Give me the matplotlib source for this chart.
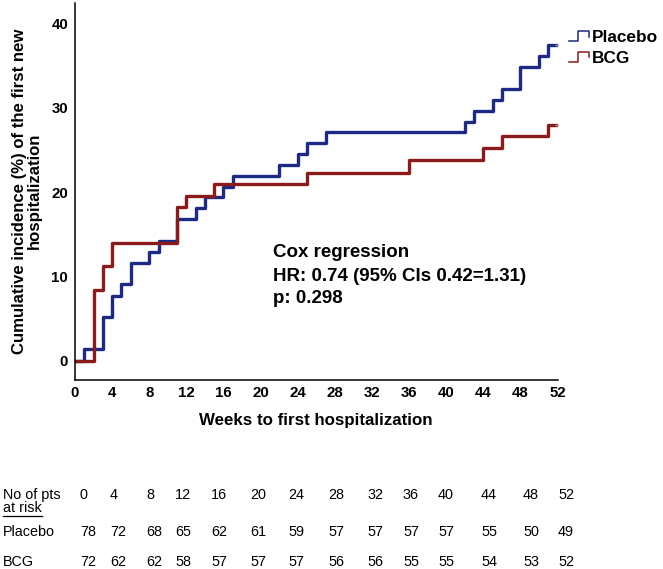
import numpy as np
import matplotlib
matplotlib.use("Agg")
import matplotlib.pyplot as plt
from matplotlib import font_manager
from matplotlib.lines import Line2D
from matplotlib.legend_handler import HandlerBase

# Dados (semanas do evento e incidência acumulada em %)
placebo_semanas = [1, 3, 4, 5, 6, 8, 9, 11, 13, 14, 16, 17, 22, 24, 25, 27,
                   42, 43, 45, 46, 48, 50, 51]
placebo_inc = [1.4, 5.2, 7.7, 9.1, 11.6, 12.9, 14.2, 16.8, 18.1, 19.4, 20.6, 21.9,
               23.2, 24.5, 25.8, 27.1, 28.3, 29.6, 30.9, 32.2, 34.8, 36.1, 37.4]

bcg_semanas = [2, 3, 4, 11, 12, 15, 25, 36, 44, 46, 51]
bcg_inc = [8.4, 11.2, 14.0, 18.2, 19.5, 20.9, 22.3, 23.8, 25.2, 26.6, 28.0]

semana_final = 52

# Tabela de pacientes em risco
tab_semanas = [0, 4, 8, 12, 16, 20, 24, 28, 32, 36, 40, 44, 48, 52]
risco_placebo = [78, 72, 68, 65, 62, 61, 59, 57, 57, 57, 57, 55, 50, 49]
risco_bcg = [72, 62, 62, 58, 57, 57, 57, 56, 56, 55, 55, 54, 53, 52]

cor_placebo = "#1c2a86"
cor_bcg = "#8c1a1a"

plt.rcParams['font.family'] = ['Liberation Sans', 'DejaVu Sans']

nomes = {f.name for f in font_manager.fontManager.ttflist}
tem_narrow = 'Liberation Sans Narrow' in nomes
fonte_tabela = ['Liberation Sans Narrow', 'Liberation Sans'] if tem_narrow else ['Liberation Sans']

W, H = 663, 569
fig = plt.figure(figsize=(W / 100, H / 100), dpi=100)
ax = fig.add_axes([75 / W, 1 - 379.5 / H, 482.5 / W, 376.5 / H])


def curva(semanas, valores):
    x = [0] + list(semanas) + [semana_final]
    y = [0] + list(valores) + [valores[-1]]
    return x, y


x, y = curva(placebo_semanas, placebo_inc)
ax.step(x, y, where='post', color=cor_placebo, lw=2.4, label='Placebo')
ax.plot([semana_final], [placebo_inc[-1]], marker='_', ms=5, mew=1, color='#9aa0c8')
x, y = curva(bcg_semanas, bcg_inc)
ax.step(x, y, where='post', color=cor_bcg, lw=2.4, label='BCG')
ax.plot([semana_final], [bcg_inc[-1]], marker='_', ms=5, mew=1, color='#c89a9a')

ax.set_xlim(0, 52)
ax.set_ylim(-2.2, 42.4)
ax.set_xticks(range(0, 53, 4))
ax.set_yticks([0, 10, 20, 30, 40])
ax.tick_params(length=0, labelsize=10.8, pad=5)
for lab in ax.get_xticklabels() + ax.get_yticklabels():
    lab.set_fontweight('bold')
for s in ['top', 'right']:
    ax.spines[s].set_visible(False)
for s in ['left', 'bottom']:
    ax.spines[s].set_linewidth(1.1)


class HandlerDegrau(HandlerBase):
    def create_artists(self, legend, orig_handle, xdescent, ydescent, width, height, fontsize, trans):
        xs = np.array([0, 0.4, 0.4, 0.95, 0.95]) * width - xdescent
        ys = np.array([0.1, 0.1, 0.9, 0.9, 0.45]) * height - ydescent
        linha = Line2D(xs, ys, color=orig_handle.get_color(), lw=1.1)
        linha.set_transform(trans)
        return [linha]


hs, ls = ax.get_legend_handles_labels()
ax.legend(hs, ls, handler_map={Line2D: HandlerDegrau()}, loc='upper left',
          bbox_to_anchor=(569 / W, 1 - 30 / H), bbox_transform=fig.transFigure,
          frameon=False, borderpad=0, borderaxespad=0, handlelength=1.25,
          handletextpad=0.1, labelspacing=0.33,
          prop={'weight': 'bold', 'size': 12.4})

# Texto da regressão de Cox
ax.text(21.3, 12.8, 'Cox regression', fontsize=13.5, fontweight='bold', va='center')
ax.text(21.3, 10.0, 'HR: 0.74 (95% CIs 0.42=1.31)', fontsize=13.5, fontweight='bold', va='center')
ax.text(21.3, 7.4, 'p: 0.298', fontsize=13.5, fontweight='bold', va='center')

fig.text(27 / W, 1 - 191 / H, 'Cumulative incidence (%) of the first new\nhospitalization',
         rotation=90, ha='center', va='center', fontsize=12.1, fontweight='bold',
         linespacing=0.95, multialignment='center')
fig.text(316 / W, 1 - 420 / H, 'Weeks to first hospitalization', ha='center', va='center',
         fontsize=12.2, fontweight='bold')

# Tabela de pacientes em risco
col_x = [80, 110, 146, 175, 211, 250, 288, 328, 367, 403, 438, 481, 523, 558]
lin_cab, lin_risco, lin_pla, lin_bcg = 495, 508, 532, 562
tam = 11 if tem_narrow else 10.4

fig.text(3 / W, 1 - lin_cab / H, 'No of pts', va='center', fontsize=tam, family=fonte_tabela)
t_risco = fig.text(3 / W, 1 - lin_risco / H, 'at risk', va='center', fontsize=tam, family=fonte_tabela)
fig.text(3 / W, 1 - lin_pla / H, 'Placebo', va='center', fontsize=tam, family=fonte_tabela)
fig.text(3 / W, 1 - lin_bcg / H, 'BCG', va='center', fontsize=tam, family=fonte_tabela)
for i, cx in enumerate(col_x):
    fig.text(cx / W, 1 - lin_cab / H, str(tab_semanas[i]), va='center', fontsize=tam, family=fonte_tabela)
    fig.text(cx / W, 1 - lin_pla / H, str(risco_placebo[i]), va='center', fontsize=tam, family=fonte_tabela)
    fig.text(cx / W, 1 - lin_bcg / H, str(risco_bcg[i]), va='center', fontsize=tam, family=fonte_tabela)

# sublinhado de "at risk"
fig.canvas.draw()
bb = t_risco.get_window_extent()
fig.add_artist(Line2D([bb.x0 / W, bb.x1 / W], [(bb.y0 - 0.5) / H, (bb.y0 - 0.5) / H],
                      color='black', lw=0.9, transform=fig.transFigure))

plt.savefig('out.png', dpi=100)
